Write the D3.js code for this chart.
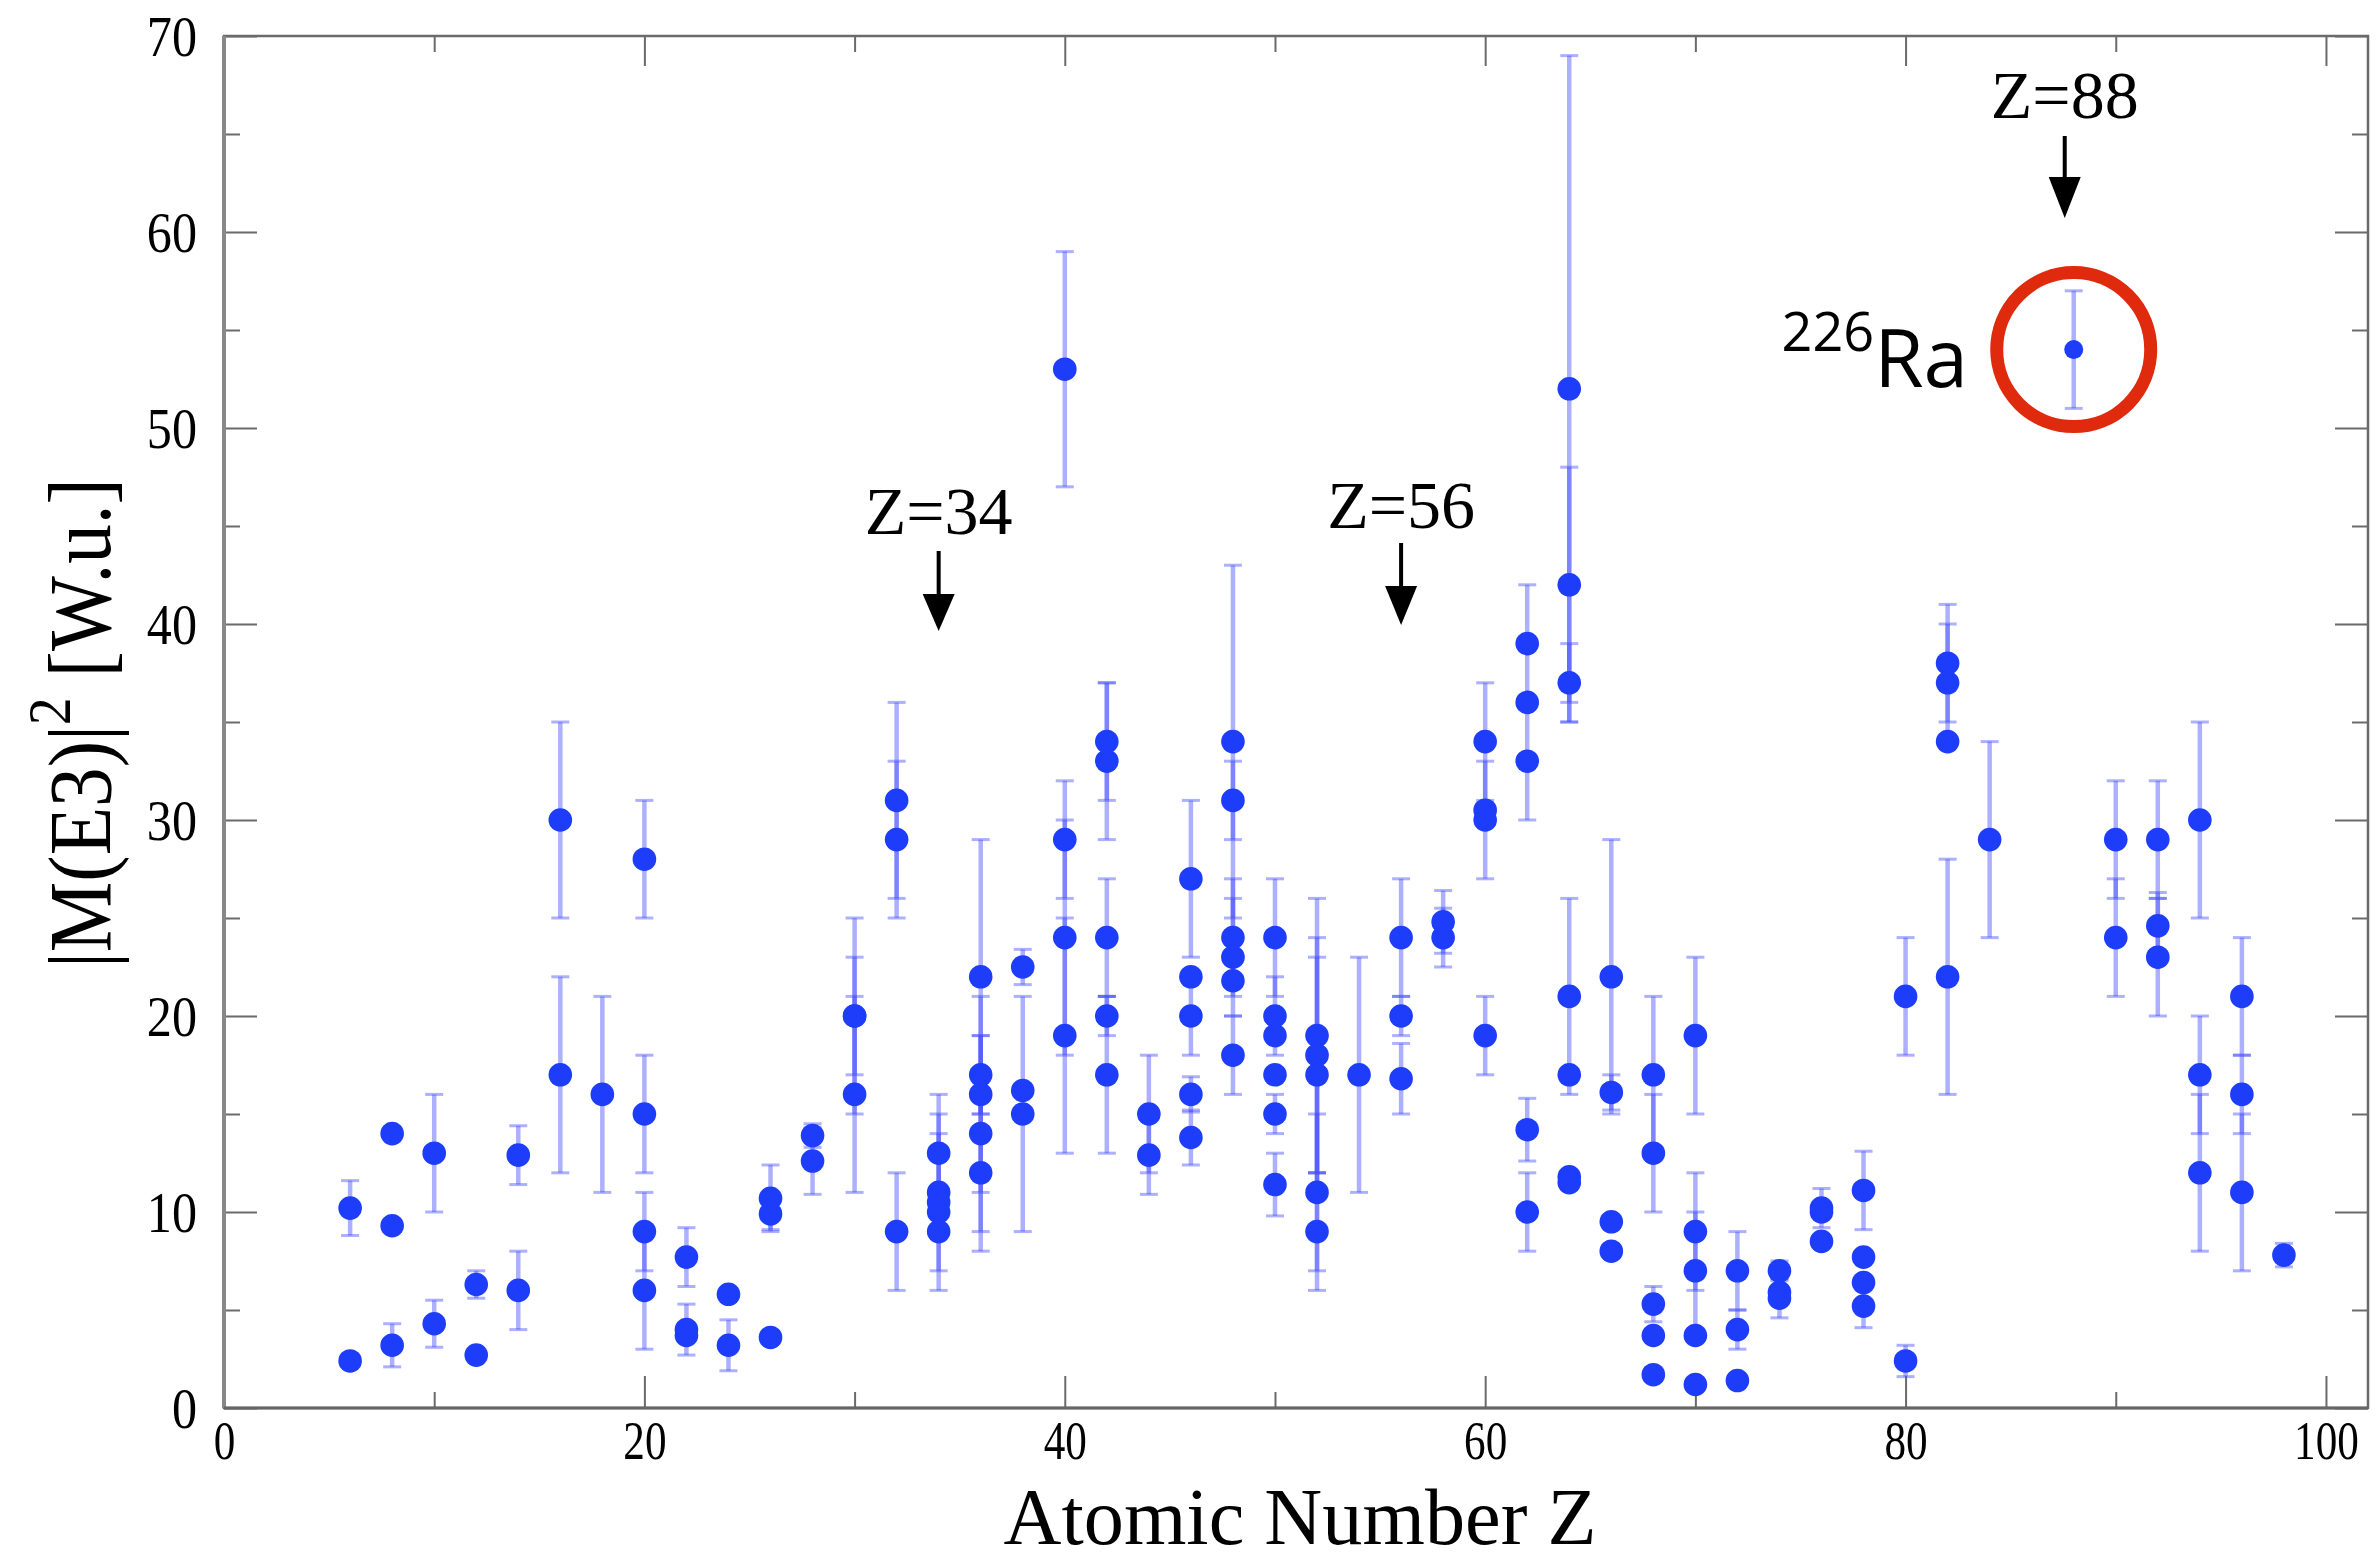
<!DOCTYPE html>
<html><head><meta charset="utf-8">
<script src="https://cdn.jsdelivr.net/npm/d3@7"></script>
<style>html,body{margin:0;padding:0;background:#fff;}</style>
</head><body>
<svg id="chart" width="2378" height="1561"></svg>
<script>
// ---- data ----
const zAtomic = [
  6,6, 8,8,8, 10,10, 12,12, 14,14, 16,16, 18,
  20,20,20,20, 22,22,22, 24,24, 26,26,26, 28,28,
  30,30,30, 32,32,32, 34,34,34,34,34, 36,36,36,36,36,
  38,38,38, 40,40,40,40, 42,42,42,42,42, 44,44,
  46,46,46,46,46, 48,48,48,48,48,48, 50,50,50,50,50,50,
  52,52,52,52,52, 54, 56,56,56, 58,58, 60,60,60,60,
  62,62,62,62,62, 64,64,64,64,64,64,64, 66,66,66,66,
  68,68,68,68,68, 70,70,70,70,70, 72,72,72, 74,74,74,
  76,76,76, 78,78,78,78, 80,80, 82,82,82,82, 84, 88,
  90,90, 92,92,92, 94,94,94, 96,96,96, 98
];
const bE3 = [
  10.2,2.4, 14.0,9.3,3.2, 13.0,4.3, 6.3,2.7, 12.9,6.0, 30.0,17.0, 16.0,
  28.0,15.0,9.0,6.0, 7.7,4.0,3.7, 5.8,3.2, 10.7,9.9,3.6, 13.9,12.6,
  20.0,20.0,16.0, 31.0,29.0,9.0, 13.0,11.0,10.5,10.0,9.0, 22.0,17.0,16.0,14.0,12.0,
  22.5,16.2,15.0, 53.0,29.0,24.0,19.0, 34.0,33.0,24.0,20.0,17.0, 15.0,12.9,
  27.0,22.0,20.0,16.0,13.8, 34.0,31.0,24.0,23.0,21.8,18.0, 24.0,20.0,19.0,17.0,15.0,11.4,
  19.0,18.0,17.0,11.0,9.0, 17.0, 24.0,20.0,16.8, 24.8,24.0, 34.0,30.5,30.0,19.0,
  39.0,36.0,33.0,14.2,10.0, 52.0,42.0,37.0,21.0,17.0,11.8,11.5, 22.0,16.1,9.5,8.0,
  17.0,13.0,5.3,3.7,1.7, 19.0,9.0,7.0,3.7,1.2, 7.0,4.0,1.4, 7.0,5.9,5.6,
  10.2,10.0,8.5, 11.1,7.7,6.4,5.2, 21.0,2.4, 38.0,37.0,34.0,22.0, 29.0, 54.0,
  29.0,24.0, 29.0,24.6,23.0, 30.0,17.0,12.0, 21.0,16.0,11.0, 7.8
];
const bErr = [
  1.4,0, 0,0,1.1, 3.0,1.2, 0.7,0, 1.5,2.0, 5.0,5.0, 5.0,
  3.0,3.0,2.0,3.0, 1.5,1.3,0, 0,1.3, 1.7,0.8,0, 0.6,1.7,
  5.0,3.0,5.0, 5.0,4.0,3.0, 3.0,4.0,0,4.0,0, 7.0,2.0,5.0,5.0,4.0,
  0.9,0,6.0, 6.0,3.0,6.0,6.0, 3.0,4.0,3.0,1.0,4.0, 3.0,2.0,
  4.0,0,2.0,0.9,1.4, 9.0,2.0,3.0,3.0,0,2.0, 3.0,2.0,0,0,1.0,1.6,
  7.0,6.0,6.0,4.0,3.0, 6.0, 3.0,1.0,1.8, 1.6,1.5, 3.0,0,3.0,2.0,
  3.0,0,3.0,1.6,2.0, 17.0,6.0,2.0,5.0,0,0,0, 7.0,0.9,0,0,
  4.0,3.0,0.9,0,0, 4.0,3.0,3.0,0,0, 2.0,1.0,0, 0.5,0,1.0,
  1.0,0,0, 2.0,0,0,1.1, 3.0,0.8, 3.0,3.0,0,6.0, 5.0, 3.0,
  3.0,3.0, 3.0,1.7,3.0, 5.0,3.0,4.0, 3.0,2.0,4.0, 0.6
];
const xMajorTicks = [0, 20, 40, 60, 80, 100];
const xMinorTicks = [10, 30, 50, 70, 90];
const yMajorTicks = [0, 10, 20, 30, 40, 50, 60, 70];
const yMinorTicks = [5, 15, 25, 35, 45, 55, 65];
const arrowZ = [34, 56, 88];
const arrowLabels = ["Z=34", "Z=56", "Z=88"];
const highlightZ = 88, highlightValue = 54;
const xTitle = "Atomic Number Z";

// ---- layout ----
const svg = d3.select("#chart");
const L = 224, R = 2368, T = 36, B = 1408;
const x = d3.scaleLinear().domain([0, 102]).range([L, R]);
const y = d3.scaleLinear().domain([0, 70]).range([B, T]);
const serif = "'Liberation Serif','Times New Roman',serif";
const frameColor = "#6a6a6a";

svg.append("rect").attr("width", 2378).attr("height", 1561).attr("fill", "#fff");

function tickAxis(axisFn, scale, ticks, len, tx, ty) {
  const g = svg.append("g").attr("transform", `translate(${tx},${ty})`)
    .call(axisFn(scale).tickValues(ticks).tickSizeInner(-len).tickSizeOuter(0).tickFormat(""));
  g.select(".domain").remove();
  g.selectAll("text").remove();
  g.selectAll("line").attr("stroke", frameColor).attr("stroke-width", 2);
  return g;
}
// bottom
const gxb = svg.append("g").attr("transform", `translate(0,${B})`)
  .call(d3.axisBottom(x).tickValues(xMajorTicks).tickSizeInner(-32).tickSizeOuter(0).tickPadding(13).tickFormat(d3.format("d")));
gxb.select(".domain").remove();
gxb.selectAll("line").attr("stroke", frameColor).attr("stroke-width", 2);
gxb.selectAll("text").attr("font-family", serif).attr("font-size", 54).attr("fill", "#000");
gxb.selectAll("text").each(function(){ const w = this.getComputedTextLength(); d3.select(this).attr("textLength", w*0.8).attr("lengthAdjust","spacingAndGlyphs"); });
tickAxis(d3.axisBottom, x, xMinorTicks, 16, 0, B);
// top
tickAxis(d3.axisTop, x, xMajorTicks, 30, 0, T);
tickAxis(d3.axisTop, x, xMinorTicks, 16, 0, T);
// left
const gyl = svg.append("g").attr("transform", `translate(${L},0)`)
  .call(d3.axisLeft(y).tickValues(yMajorTicks).tickSizeInner(-33).tickSizeOuter(0).tickPadding(27).tickFormat(d3.format("d")));
gyl.select(".domain").remove();
gyl.selectAll("line").attr("stroke", frameColor).attr("stroke-width", 2);
gyl.selectAll("text").attr("font-family", serif).attr("font-size", 57).attr("fill", "#000").attr("dy", "0.34em");
gyl.selectAll("text").each(function(){ const w = this.getComputedTextLength(); d3.select(this).attr("textLength", w*0.88).attr("lengthAdjust","spacingAndGlyphs"); });
tickAxis(d3.axisLeft, y, yMinorTicks, 16, L, 0);
// right
tickAxis(d3.axisRight, y, yMajorTicks, 33, R, 0);
tickAxis(d3.axisRight, y, yMinorTicks, 16, R, 0);

// frame
svg.append("rect").attr("x", L).attr("y", T).attr("width", R - L).attr("height", B - T)
  .attr("fill", "none").attr("stroke", frameColor).attr("stroke-width", 2.5);
svg.append("line").attr("x1", L).attr("x2", L).attr("y1", T).attr("y2", B)
  .attr("stroke", "#888").attr("stroke-width", 4);
svg.append("line").attr("x1", L).attr("x2", R).attr("y1", B).attr("y2", B)
  .attr("stroke", "#666").attr("stroke-width", 3);

// data
const pts = zAtomic.map((z, i) => ({z, v: bE3[i], e: bErr[i]}));
const errColor = "rgba(70,80,255,0.45)";
const eg = svg.append("g");
pts.filter(d => d.e > 0).forEach(d => {
  const cx = x(d.z);
  eg.append("line").attr("x1", cx).attr("x2", cx).attr("y1", y(d.v - d.e)).attr("y2", y(d.v + d.e))
    .attr("stroke", errColor).attr("stroke-width", 4.5);
  [d.v - d.e, d.v + d.e].forEach(val => {
    eg.append("line").attr("x1", cx - 9).attr("x2", cx + 9).attr("y1", y(val)).attr("y2", y(val))
      .attr("stroke", errColor).attr("stroke-width", 3);
  });
});
svg.append("g").selectAll("circle").data(pts).join("circle")
  .attr("cx", d => x(d.z)).attr("cy", d => y(d.v))
  .attr("r", d => d.z === highlightZ ? 9.5 : 11.8)
  .attr("fill", "#1d3dfb");

// annotations
const annY = {34: [534, 551, 594, 631], 56: [528, 543, 586, 625], 88: [118, 136, 177, 218]};
const annDx = {34: 0, 56: 0, 88: -9};
arrowZ.forEach((z, i) => {
  const cx = x(z) + annDx[z];
  const [tb, l1, l2, tip] = annY[z];
  svg.append("text").attr("x", cx).attr("y", tb).attr("text-anchor", "middle")
    .attr("font-family", serif).attr("font-size", 68).attr("fill", "#000").text(arrowLabels[i]);
  svg.append("line").attr("x1", cx).attr("x2", cx).attr("y1", l1).attr("y2", l2 + 2)
    .attr("stroke", "#000").attr("stroke-width", 4);
  svg.append("path").attr("d", `M${cx - 16},${l2} L${cx + 16},${l2} L${cx},${tip} Z`).attr("fill", "#000");
});

// highlight circle and label
svg.append("ellipse").attr("cx", x(highlightZ)).attr("cy", y(highlightValue)).attr("rx", 77).attr("ry", 77)
  .attr("fill", "none").attr("stroke", "#e02a0e").attr("stroke-width", 13);
const ra = svg.append("text").attr("x", 1968).attr("y", 387).attr("text-anchor", "end")
  .attr("font-family", "'Open Sans','Liberation Sans',sans-serif").attr("fill", "#000");
ra.append("tspan").attr("font-size", 54).attr("dy", -36).text("226");
ra.append("tspan").attr("font-size", 80).attr("dy", 36).text("Ra");

// axis titles
svg.append("text").attr("x", 1300).attr("y", 1544).attr("text-anchor", "middle")
  .attr("font-family", serif).attr("font-size", 80).attr("fill", "#000")
  .attr("textLength", 593).attr("lengthAdjust", "spacingAndGlyphs").text(xTitle);
const yt = svg.append("text").attr("transform", "translate(110,723) rotate(-90)")
  .attr("text-anchor", "middle").attr("font-family", serif).attr("font-size", 88).attr("fill", "#000")
  .attr("textLength", 490).attr("lengthAdjust", "spacingAndGlyphs");
yt.append("tspan").text("|M(E3)|");
yt.append("tspan").attr("font-size", 62).attr("dy", -40).text("2");
yt.append("tspan").attr("dy", 40).text(" [W.u.]");
</script>
</body></html>
